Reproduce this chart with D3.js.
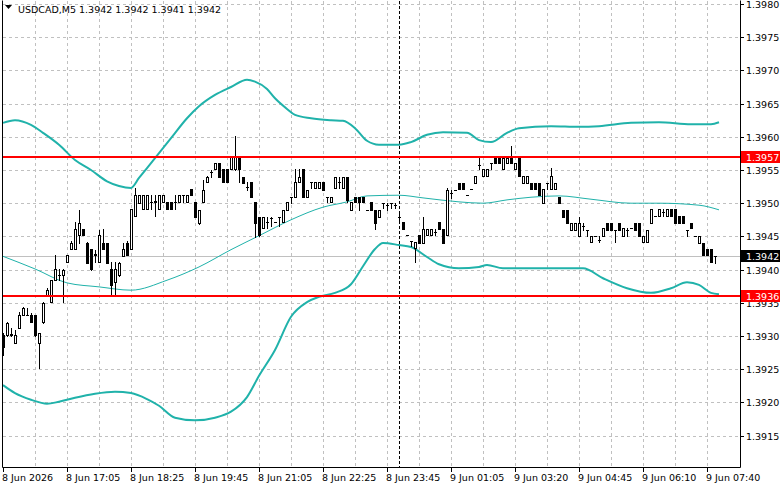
<!DOCTYPE html>
<html>
<head>
<meta charset="utf-8">
<script src="https://cdn.jsdelivr.net/npm/d3@7"></script>
<style>
	body { margin: 0; background: #fff; }
	svg text { font-family: "DejaVu Sans", sans-serif; font-size: 9.5px; }
</style>
</head>
<body>
<svg></svg>
<script>
	// USDCAD M5 bars, [open, high, low, close]
	let bars = [
		[1.39302,1.39305,1.39271,1.39283],[1.39302,1.39321,1.39300,1.39320],[1.39302,1.39312,1.39300,1.39303],[1.39290,1.39309,1.39290,1.39302],
		[1.39312,1.39336,1.39312,1.39332],[1.39332,1.39344,1.39332,1.39342],[1.39332,1.39342,1.39332,1.39332],[1.39332,1.39335,1.39321,1.39321],
		[1.39332,1.39332,1.39300,1.39302],[1.39290,1.39305,1.39252,1.39305],[1.39321,1.39351,1.39320,1.39350],[1.39362,1.39372,1.39362,1.39369],
		[1.39351,1.39384,1.39351,1.39384],[1.39384,1.39422,1.39384,1.39401],[1.39392,1.39401,1.39384,1.39392],[1.39392,1.39401,1.39351,1.39399],
		[1.39411,1.39422,1.39411,1.39422],[1.39431,1.39443,1.39431,1.39440],[1.39431,1.39472,1.39431,1.39461],[1.39452,1.39490,1.39440,1.39470],
		[1.39461,1.39461,1.39452,1.39452],[1.39440,1.39442,1.39410,1.39410],[1.39431,1.39431,1.39399,1.39401],[1.39422,1.39430,1.39411,1.39423],
		[1.39411,1.39460,1.39411,1.39452],[1.39440,1.39461,1.39431,1.39431],[1.39440,1.39440,1.39410,1.39410],[1.39401,1.39411,1.39362,1.39377],
		[1.39381,1.39411,1.39362,1.39401],[1.39392,1.39411,1.39390,1.39410],[1.39420,1.39440,1.39420,1.39431],[1.39440,1.39443,1.39422,1.39422],
		[1.39431,1.39491,1.39431,1.39491],[1.39481,1.39523,1.39481,1.39512],[1.39500,1.39512,1.39500,1.39512],[1.39491,1.39512,1.39491,1.39512],
		[1.39491,1.39512,1.39491,1.39512],[1.39502,1.39512,1.39491,1.39502],[1.39502,1.39512,1.39481,1.39503],[1.39491,1.39512,1.39491,1.39512],
		[1.39502,1.39512,1.39502,1.39512],[1.39502,1.39502,1.39491,1.39491],[1.39502,1.39502,1.39491,1.39491],[1.39502,1.39512,1.39491,1.39502],
		[1.39502,1.39512,1.39502,1.39512],[1.39512,1.39512,1.39502,1.39512],[1.39502,1.39512,1.39502,1.39512],[1.39521,1.39521,1.39512,1.39512],
		[1.39502,1.39502,1.39479,1.39479],[1.39470,1.39490,1.39469,1.39490],[1.39502,1.39535,1.39502,1.39520],[1.39532,1.39541,1.39532,1.39540],
		[1.39547,1.39550,1.39540,1.39547],[1.39552,1.39561,1.39552,1.39561],[1.39561,1.39561,1.39540,1.39540],[1.39552,1.39552,1.39532,1.39532],
		[1.39552,1.39552,1.39532,1.39532],[1.39552,1.39571,1.39552,1.39571],[1.39552,1.39601,1.39550,1.39570],[1.39570,1.39570,1.39532,1.39552],
		[1.39540,1.39540,1.39530,1.39530],[1.39524,1.39532,1.39520,1.39524],[1.39532,1.39532,1.39509,1.39509],[1.39502,1.39502,1.39449,1.39470],
		[1.39479,1.39479,1.39451,1.39452],[1.39463,1.39479,1.39463,1.39479],[1.39472,1.39479,1.39463,1.39472],[1.39478,1.39479,1.39466,1.39478],
		[1.39472,1.39472,1.39472,1.39472],[1.39479,1.39479,1.39466,1.39479],[1.39472,1.39490,1.39472,1.39490],[1.39490,1.39502,1.39490,1.39502],
		[1.39509,1.39509,1.39500,1.39509],[1.39509,1.39552,1.39509,1.39532],[1.39532,1.39552,1.39532,1.39540],[1.39552,1.39552,1.39509,1.39509],
		[1.39509,1.39520,1.39509,1.39520],[1.39532,1.39532,1.39523,1.39532],[1.39523,1.39532,1.39523,1.39532],[1.39523,1.39532,1.39523,1.39532],
		[1.39532,1.39532,1.39520,1.39520],[1.39509,1.39509,1.39502,1.39509],[1.39502,1.39509,1.39502,1.39509],[1.39523,1.39540,1.39523,1.39540],
		[1.39532,1.39540,1.39523,1.39532],[1.39523,1.39540,1.39523,1.39540],[1.39540,1.39540,1.39502,1.39505],[1.39490,1.39502,1.39490,1.39502],
		[1.39509,1.39509,1.39502,1.39502],[1.39509,1.39509,1.39490,1.39502],[1.39509,1.39509,1.39502,1.39502],[1.39490,1.39490,1.39490,1.39490],
		[1.39502,1.39502,1.39490,1.39490],[1.39490,1.39490,1.39461,1.39470],[1.39479,1.39490,1.39479,1.39490],[1.39500,1.39500,1.39493,1.39500],
		[1.39497,1.39500,1.39490,1.39497],[1.39500,1.39500,1.39493,1.39500],[1.39497,1.39500,1.39493,1.39497],[1.39479,1.39484,1.39475,1.39479],
		[1.39472,1.39472,1.39461,1.39461],[1.39452,1.39452,1.39452,1.39452],[1.39443,1.39443,1.39436,1.39443],[1.39433,1.39442,1.39411,1.39442],
		[1.39452,1.39452,1.39440,1.39440],[1.39440,1.39479,1.39440,1.39461],[1.39452,1.39461,1.39452,1.39461],[1.39452,1.39461,1.39452,1.39461],
		[1.39457,1.39461,1.39452,1.39457],[1.39472,1.39472,1.39461,1.39461],[1.39461,1.39461,1.39440,1.39440],[1.39452,1.39523,1.39452,1.39520],
		[1.39515,1.39520,1.39508,1.39515],[1.39520,1.39520,1.39520,1.39520],[1.39530,1.39530,1.39521,1.39521],[1.39530,1.39530,1.39521,1.39521],
		[1.39512,1.39512,1.39512,1.39512],[1.39521,1.39521,1.39521,1.39521],[1.39530,1.39541,1.39530,1.39541],[1.39558,1.39568,1.39552,1.39558],
		[1.39541,1.39552,1.39541,1.39552],[1.39541,1.39552,1.39541,1.39552],[1.39561,1.39561,1.39552,1.39561],[1.39568,1.39568,1.39561,1.39561],
		[1.39568,1.39568,1.39561,1.39561],[1.39552,1.39568,1.39552,1.39568],[1.39561,1.39568,1.39561,1.39568],[1.39568,1.39586,1.39561,1.39561],
		[1.39552,1.39561,1.39552,1.39561],[1.39568,1.39568,1.39541,1.39541],[1.39530,1.39541,1.39530,1.39541],[1.39530,1.39541,1.39530,1.39541],
		[1.39530,1.39530,1.39521,1.39521],[1.39530,1.39530,1.39521,1.39521],[1.39530,1.39530,1.39512,1.39512],[1.39500,1.39521,1.39500,1.39521],
		[1.39530,1.39530,1.39521,1.39530],[1.39521,1.39553,1.39521,1.39541],[1.39521,1.39530,1.39521,1.39530],[1.39509,1.39509,1.39500,1.39500],
		[1.39490,1.39490,1.39479,1.39479],[1.39490,1.39490,1.39470,1.39470],[1.39460,1.39470,1.39460,1.39470],[1.39460,1.39470,1.39460,1.39470],
		[1.39451,1.39479,1.39451,1.39470],[1.39466,1.39470,1.39460,1.39466],[1.39460,1.39460,1.39451,1.39460],[1.39442,1.39451,1.39442,1.39451],
		[1.39451,1.39451,1.39451,1.39451],[1.39445,1.39451,1.39442,1.39445],[1.39451,1.39463,1.39451,1.39463],[1.39470,1.39470,1.39460,1.39460],
		[1.39470,1.39470,1.39460,1.39460],[1.39460,1.39460,1.39442,1.39460],[1.39470,1.39470,1.39460,1.39460],[1.39451,1.39463,1.39451,1.39463],
		[1.39460,1.39463,1.39451,1.39460],[1.39463,1.39463,1.39463,1.39463],[1.39470,1.39470,1.39460,1.39460],[1.39470,1.39470,1.39451,1.39451],
		[1.39442,1.39451,1.39442,1.39451],[1.39442,1.39460,1.39442,1.39460],[1.39470,1.39491,1.39470,1.39491],[1.39481,1.39481,1.39481,1.39481],
		[1.39481,1.39491,1.39481,1.39491],[1.39487,1.39491,1.39481,1.39487],[1.39481,1.39491,1.39481,1.39491],[1.39491,1.39491,1.39481,1.39481],
		[1.39491,1.39491,1.39470,1.39470],[1.39481,1.39481,1.39470,1.39470],[1.39481,1.39481,1.39470,1.39470],[1.39460,1.39460,1.39451,1.39460],
		[1.39470,1.39470,1.39463,1.39463],[1.39451,1.39451,1.39451,1.39451],[1.39440,1.39451,1.39440,1.39451],[1.39440,1.39440,1.39422,1.39422],
		[1.39431,1.39431,1.39422,1.39422],[1.39431,1.39431,1.39411,1.39411],[1.39420,1.39420,1.39410,1.39420]
	];

	// bollinger bands, [bar index, price]
	let upperBand = [[0,1.39621],[3,1.39625],[7,1.39618],[10,1.39606],[14,1.39588],[18,1.39565],[22,1.39550],[26,1.39533],[29,1.39526],[32,1.39523],
		[34,1.39538],[38,1.39568],[42,1.39598],[46,1.39628],[49,1.39646],[53,1.39663],[57,1.39675],[61,1.39686],[63,1.39683],[66,1.39672],
		[68,1.39658],[71,1.39642],[73,1.39633],[77,1.39628],[82,1.39625],[85,1.39624],[88,1.39613],[91,1.39594],[94,1.39588],[99,1.39588],
		[102,1.39592],[106,1.39603],[110,1.39607],[116,1.39606],[119,1.39595],[122,1.39592],[126,1.39606],[129,1.39613],[137,1.39616],[144,1.39615],
		[149,1.39616],[157,1.39621],[164,1.39622],[172,1.39619],[177,1.39619],[179,1.39622]];
	let middleBand = [[0,1.39420],[8,1.39401],[16,1.39380],[24,1.39374],[32,1.39369],[41,1.39384],[49,1.39404],[57,1.39430],[64,1.39451],[72,1.39475],
		[80,1.39494],[86,1.39502],[91,1.39511],[99,1.39512],[105,1.39508],[114,1.39502],[120,1.39500],[126,1.39505],[132,1.39509],[139,1.39511],
		[147,1.39506],[157,1.39500],[164,1.39500],[174,1.39497],[179,1.39490]];
	let lowerBand = [[0,1.39226],[3,1.39214],[7,1.39204],[11,1.39198],[14,1.39201],[18,1.39207],[23,1.39213],[28,1.39216],[32,1.39214],[36,1.39205],
		[39,1.39195],[43,1.39177],[48,1.39173],[53,1.39177],[57,1.39186],[61,1.39208],[64,1.39240],[68,1.39279],[72,1.39329],[76,1.39351],
		[79,1.39359],[83,1.39365],[87,1.39378],[90,1.39405],[93,1.39431],[95,1.39440],[99,1.39437],[102,1.39434],[106,1.39419],[109,1.39408],
		[114,1.39402],[119,1.39404],[121,1.39407],[125,1.39402],[134,1.39402],[145,1.39402],[150,1.39387],[156,1.39372],[162,1.39365],[167,1.39372],
		[171,1.39381],[174,1.39377],[177,1.39365],[179,1.39363]];

	let timeTickIdx = [0, 16, 32, 48, 64, 80, 96, 112, 128, 144, 160, 176];
	let timeLabels = ['8 Jun 2026', '8 Jun 17:05', '8 Jun 18:25', '8 Jun 19:45', '8 Jun 21:05', '8 Jun 22:25',
		'8 Jun 23:45', '9 Jun 01:05', '9 Jun 03:20', '9 Jun 04:45', '9 Jun 06:10', '9 Jun 07:40'];
	let priceTicks = d3.range(13, -1, -1).map(function(k) { return 1.3915 + k * 0.0005; });
	let levels = [1.3957, 1.3936];
	let dayStart = 99;
	let symbol = 'USDCAD,M5';

	let width = 781;
	let height = 489;
	let right = 740;
	let bottom = 468;

	let svg = d3.select('svg')
		.attr('width', width)
		.attr('height', height);

	let x = d3.scaleLinear().domain([0, bars.length - 1]).range([3, 715]);
	let y = d3.scaleLinear().domain([1.3915, 1.3980]).range([435.6, 4]);
	let px = function(v) { return Math.round(v) + 0.5; };

	// grid
	let grid = svg.append('g').attr('class', 'grid')
		.attr('stroke', '#c0c0c0')
		.attr('stroke-dasharray', '3,3');

	grid.selectAll('.hgrid')
		.data(priceTicks)
		.enter()
		.append('line')
		.attr('x1', 3).attr('x2', right)
		.attr('y1', function(d) { return px(y(d)); })
		.attr('y2', function(d) { return px(y(d)); });

	grid.selectAll('.vgrid')
		.data(d3.range(8, bars.length + 2, 8))
		.enter()
		.append('line')
		.attr('y1', 1).attr('y2', bottom)
		.attr('x1', function(d) { return Math.round(x(d)) + 0.5; })
		.attr('x2', function(d) { return Math.round(x(d)) + 0.5; });

	// day separator
	svg.append('line')
		.attr('x1', Math.round(x(dayStart)) + 0.5).attr('x2', Math.round(x(dayStart)) + 0.5)
		.attr('y1', 1).attr('y2', bottom)
		.attr('stroke', '#000')
		.attr('stroke-dasharray', '3,2');

	// current price line
	let last = bars[bars.length - 1];
	svg.append('line')
		.attr('x1', 3).attr('x2', right)
		.attr('y1', px(y(last[3]))).attr('y2', px(y(last[3])))
		.attr('stroke', '#c0c0c0');

	// bands
	let bandLine = d3.line()
		.x(function(d) { return x(d[0]); })
		.y(function(d) { return y(d[1]); })
		.curve(d3.curveMonotoneX);

	[[upperBand, 2], [middleBand, 1], [lowerBand, 2]].forEach(function(b) {
		svg.append('path')
			.attr('d', bandLine(b[0]))
			.attr('fill', 'none')
			.attr('stroke', '#20b2aa')
			.attr('stroke-width', b[1]);
	});

	// candles
	let candle = svg.append('g').attr('class', 'candles')
		.selectAll('g')
		.data(bars)
		.enter()
		.append('g');

	candle.append('rect')
		.attr('x', function(d, i) { return Math.round(x(i)); })
		.attr('width', 1)
		.attr('y', function(d) { return Math.round(y(d[1])); })
		.attr('height', function(d) { return Math.round(y(d[2])) - Math.round(y(d[1])) + 1; })
		.attr('fill', '#000');

	candle.append('rect')
		.attr('x', function(d, i) { return d[3] > d[0] ? Math.round(x(i)) - 0.5 : Math.round(x(i)) - 1; })
		.attr('width', function(d) { return d[3] > d[0] ? 2 : 3; })
		.attr('y', function(d) {
			let top = Math.round(y(Math.max(d[0], d[3])));
			return d[3] > d[0] ? top + 0.5 : top;
		})
		.attr('height', function(d) {
			let h = Math.round(y(Math.min(d[0], d[3]))) - Math.round(y(Math.max(d[0], d[3])));
			return d[3] > d[0] ? Math.max(h, 1) : h + 1;
		})
		.attr('fill', function(d) { return d[3] > d[0] ? '#fff' : '#000'; })
		.attr('stroke', function(d) { return d[3] > d[0] ? '#000' : 'none'; });

	// level lines
	svg.selectAll('.level')
		.data(levels)
		.enter()
		.append('line')
		.attr('x1', 3).attr('x2', right)
		.attr('y1', function(d) { return Math.round(y(d)); })
		.attr('y2', function(d) { return Math.round(y(d)); })
		.attr('stroke', '#ff0000')
		.attr('stroke-width', 2);

	// frame
	svg.append('path')
		.attr('d', 'M2.5,0.5V' + (bottom - 0.5) + 'H' + (right + 0.5) + 'V0.5')
		.attr('fill', 'none')
		.attr('stroke', '#000');

	// price axis
	let yAxis = svg.append('g');
	yAxis.selectAll('line')
		.data(priceTicks)
		.enter()
		.append('line')
		.attr('x1', right + 1).attr('x2', right + 4)
		.attr('y1', function(d) { return px(y(d)); })
		.attr('y2', function(d) { return px(y(d)); })
		.attr('stroke', '#000');
	yAxis.selectAll('text')
		.data(priceTicks)
		.enter()
		.append('text')
		.attr('x', 746)
		.attr('y', function(d) { return Math.round(y(d)) + 4; })
		.text(function(d) { return d.toFixed(4); });

	// price labels
	let tags = [[levels[0], '#ff0000'], [levels[1], '#ff0000'], [last[3], '#000']];
	let tag = svg.selectAll('.tag')
		.data(tags)
		.enter()
		.append('g');
	tag.append('rect')
		.attr('x', right + 1)
		.attr('y', function(d) { return Math.round(y(d[0])) - 6; })
		.attr('width', 39)
		.attr('height', 12)
		.attr('fill', function(d) { return d[1]; });
	tag.append('text')
		.attr('x', 746)
		.attr('y', function(d) { return Math.round(y(d[0])) + 4; })
		.attr('fill', '#fff')
		.text(function(d) { return d[0].toFixed(4); });

	// time axis
	let xAxis = svg.append('g');
	xAxis.selectAll('line')
		.data(timeTickIdx)
		.enter()
		.append('line')
		.attr('x1', function(d) { return Math.round(x(d)) + 0.5; })
		.attr('x2', function(d) { return Math.round(x(d)) + 0.5; })
		.attr('y1', bottom).attr('y2', bottom + 4)
		.attr('stroke', '#000');
	xAxis.selectAll('text')
		.data(timeTickIdx)
		.enter()
		.append('text')
		.attr('x', function(d) { return Math.round(x(d)) - 1; })
		.attr('y', 481)
		.text(function(d, i) { return timeLabels[i]; });

	// header
	svg.append('path')
		.attr('d', 'M5,5H12L8.5,9Z')
		.attr('fill', '#000');
	svg.append('text')
		.attr('x', 18)
		.attr('y', 13)
		.text(symbol + '  ' + last.map(function(v) { return v.toFixed(4); }).join(' '));
</script>
</body>
</html>
